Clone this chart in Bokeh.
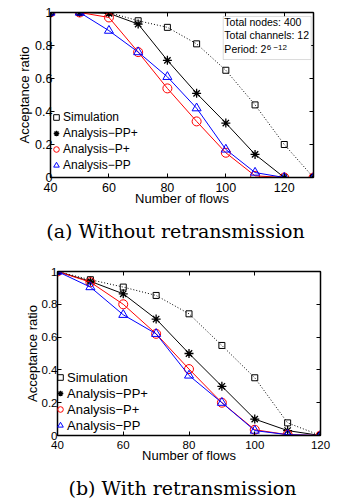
from bokeh.plotting import figure
from bokeh.models import (Range1d, FixedTicker, LinearAxis, Legend, LegendItem,
                          CustomJSTickFormatter, BoxAnnotation, Label, Div)
from bokeh.embed import file_html
from bokeh.resources import INLINE

# ---------------- data ----------------
flows_a = [40, 50, 60, 70, 80, 90, 100, 110, 120, 130]
sim_a = [1, 1, 1, 0.95, 0.91, 0.81, 0.65, 0.44, 0.2, 0]
pp_plus_a = [1, 1, 0.995, 0.93, 0.71, 0.51, 0.33, 0.14, 0, 0]
p_plus_a = [1, 1, 0.97, 0.76, 0.54, 0.34, 0.15, 0.01, 0, 0]
pp_a = [1, 1, 0.89, 0.76, 0.61, 0.42, 0.17, 0.03, 0, 0]

flows_b = [40, 50, 60, 70, 80, 90, 100, 110, 120]
sim_b = [1, 0.95, 0.905, 0.854, 0.742, 0.549, 0.352, 0.077, 0]
pp_plus_b = [1, 0.94, 0.864, 0.71, 0.50, 0.30, 0.10, 0.03, 0]
p_plus_b = [1, 0.935, 0.80, 0.62, 0.405, 0.20, 0.035, 0.005, 0]
pp_b = [1, 0.905, 0.736, 0.62, 0.366, 0.20, 0.03, 0.005, 0]

x_ticks = [40, 60, 80, 100, 120]
y_ticks = [0, 0.2, 0.4, 0.6, 0.8, 1]
series_names = ["Simulation", "Analysis\u2212PP+", "Analysis\u2212P+", "Analysis\u2212PP"]
caption_a = "(a) Without retransmission"
caption_b = "(b) With retransmission"
info_lines = ["Total nodes: 400", "Total channels: 12", "Period: 2"]
info_sup = "6 \u221212"

SANS = "Liberation Sans"
SERIF = "DejaVu Serif"


def make_panel(xs, sim, ppp, pp_, ppl, xmax, frame_w, frame_h, mb, tick_fs,
               lab_fs, leg_fs, leg_loc, ylab_standoff, ytick_standoff,
               xtick_standoff, xlab_standoff):
    p = figure(frame_width=frame_w, frame_height=frame_h,
               x_range=Range1d(40, xmax), y_range=Range1d(0, 1),
               output_backend="svg", toolbar_location=None,
               min_border_left=mb[0], min_border_right=mb[1],
               min_border_top=mb[2], min_border_bottom=mb[3],
               background_fill_color="white", border_fill_color="white")
    p.xgrid.visible = False
    p.ygrid.visible = False
    p.outline_line_color = "black"
    p.outline_line_width = 1

    fmt = CustomJSTickFormatter(code="return Number(tick.toFixed(1)).toString();")
    for ax in p.xaxis:
        ax.ticker = FixedTicker(ticks=x_ticks)
        ax.axis_label = "Number of flows"
        ax.major_label_standoff = xtick_standoff
        ax.axis_label_standoff = xlab_standoff
    for ax in p.yaxis:
        ax.ticker = FixedTicker(ticks=y_ticks)
        ax.formatter = fmt
        ax.axis_label = "Acceptance ratio"
        ax.major_label_standoff = ytick_standoff
        ax.axis_label_standoff = ylab_standoff
    for ax in list(p.xaxis) + list(p.yaxis):
        ax.major_tick_in = 4
        ax.major_tick_out = 0
        ax.minor_tick_line_color = None
        ax.axis_line_width = 1.5
        ax.axis_line_color = "black"
        ax.major_tick_line_color = "black"
        ax.major_label_text_font = SANS
        ax.major_label_text_font_size = tick_fs
        ax.major_label_text_color = "black"
        ax.axis_label_text_font = SANS
        ax.axis_label_text_font_size = lab_fs
        ax.axis_label_text_font_style = "normal"
        ax.axis_label_text_color = "black"

    top = LinearAxis(ticker=FixedTicker(ticks=x_ticks), major_label_text_font_size="1px",
                     major_label_text_color=None,
                     major_label_standoff=0, major_tick_in=4, major_tick_out=0,
                     minor_tick_line_color=None, axis_line_width=1.5)
    right = LinearAxis(ticker=FixedTicker(ticks=y_ticks), major_label_text_font_size="1px",
                       major_label_text_color=None,
                       major_label_standoff=0, major_tick_in=4, major_tick_out=0,
                       minor_tick_line_color=None, axis_line_width=1.5)
    p.add_layout(top, "above")
    p.add_layout(right, "right")

    p.line(xs, sim, line_color="black", line_width=1, line_dash="1 2")
    r_sim = p.scatter(xs, sim, marker="square", size=6, line_color="black",
                      fill_color=None, line_width=1)
    p.line(xs, ppp, line_color="black", line_width=1)
    r_ppp = p.scatter(xs, ppp, marker="asterisk", size=9, line_color="black", line_width=1.3)
    p.line(xs, ppl, line_color="red", line_width=1)
    r_ppl = p.scatter(xs, ppl, marker="circle", size=9, line_color="red",
                      fill_color=None, line_width=1)
    p.line(xs, pp_, line_color="blue", line_width=1)
    r_pp = p.scatter(xs, pp_, marker="triangle", size=9, line_color="blue",
                     fill_color=None, line_width=1)

    legend = Legend(items=[LegendItem(label=series_names[0], renderers=[r_sim]),
                           LegendItem(label=series_names[1], renderers=[r_ppp]),
                           LegendItem(label=series_names[2], renderers=[r_ppl]),
                           LegendItem(label=series_names[3], renderers=[r_pp])],
                    location=leg_loc, border_line_color=None, background_fill_alpha=0,
                    padding=0, margin=0, spacing=0, glyph_width=14, glyph_height=16,
                    label_height=16, label_standoff=0, label_text_font=SANS,
                    label_text_font_size=leg_fs, label_text_color="black")
    p.add_layout(legend)
    return p


def caption_div(text, height, pad_top, pad_left):
    html = ('<div style="font-family:\'DejaVu Serif\';font-size:19px;line-height:22px;'
            'color:black;white-space:nowrap;text-align:center;width:340px;'
            'box-sizing:border-box;padding-top:%dpx;padding-left:%dpx;margin:0;">%s</div>'
            % (pad_top, pad_left, text))
    return Div(text=html, width=340, height=height, margin=0)


p1 = make_panel(flows_a, sim_a, pp_plus_a, pp_a, p_plus_a, 130, 263, 165,
                (50, 27, 12, 36), "12.5px", "13px", "12px", (-1, 4),
                0, -2, 5, -4)

# info box in panel (a)
box = BoxAnnotation(left=99.1, right=129.2, bottom=0.715, top=0.976,
                    fill_color="white", fill_alpha=1, line_color="#888888", line_width=1)
p1.add_layout(box)
for txt, yy in zip(info_lines, [0.942, 0.861, 0.776]):
    p1.add_layout(Label(x=99.5, y=yy, text=txt, text_font=SANS, text_font_size="10.5px",
                        text_baseline="middle", text_color="black"))
p1.add_layout(Label(x=114.0, y=0.79, text=info_sup, text_font=SANS, text_font_size="8px",
                    text_baseline="middle", text_color="black"))

p2 = make_panel(flows_b, sim_b, pp_plus_b, pp_b, p_plus_b, 120, 263, 164,
                (57, 20, 21, 36), "11.5px", "13px", "13px", (-4, 2),
                -1, 0, 5, -4)

cap_a = caption_div(caption_a, 37, 7, 11)
cap_b = caption_div(caption_b, 31, 6, 25)

open("out.html", "w").write(file_html([p1, cap_a, p2, cap_b], INLINE))
